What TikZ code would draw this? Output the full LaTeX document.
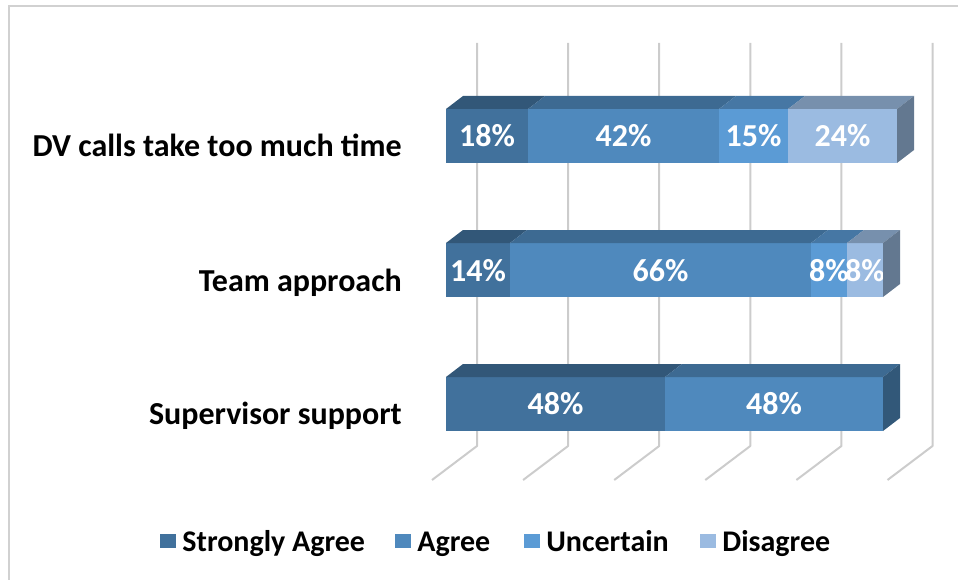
\documentclass[tikz,border=0pt]{standalone}
\usepackage{fontspec}
\setmainfont{Carlito}
\usetikzlibrary{positioning}

\definecolor{sagree}{RGB}{65,113,156}
\definecolor{agree}{RGB}{79,137,189}
\definecolor{uncert}{RGB}{91,155,213}
\definecolor{disagree}{RGB}{155,187,225}

\begin{document}
\begin{tikzpicture}
    [x=1pt,y=-1pt,every node/.style={font=\bfseries\fontsize{30}{36}\selectfont,inner sep=0pt,
         text height=26pt,text depth=6pt},
     val/.style={text=white,font=\bfseries\fontsize{32}{38}\selectfont},
     cat/.style={anchor=east,font=\bfseries\fontsize{32}{38}\selectfont},
     sq/.style={minimum width=16pt,minimum height=14pt,text height=,text depth=},
     grid/.style={line width=2pt,black!20,line join=round}]
    \useasboundingbox (0,0) rectangle (958,580);

    % frame
    \draw[black!18,line width=1.5pt] (9,580) -- (9,6) -- (958,6);

    % back wall and floor lines
    \foreach \i in {0,...,5}
        \draw[grid] ({477+91.1*\i},43) -- ({477+91.1*\i},446) -- ++(-45,34);

    % DV calls take too much time
    \foreach \a/\b/\c/\t [count=\i] in {446/528/sagree/18,528/719/agree/42,719/788/uncert/15,788/897/disagree/24}{
        \fill[\c] (\a,109) rectangle (\b,163);
        \fill[\c!77!black] (\a,109) -- ++(17,-13) -- (\b+17,96) -- (\b,109) -- cycle;
        \node[val] (dv\i) at ({(\a+\b)/2},137) {\t\%};
    }
    \fill[disagree!64!black] (897,109) -- ++(17,-13) -- ++(0,54) -- (897,163) -- cycle;
    \node[cat] (dv) at (402,147) {DV calls take too much time};

    % Team approach
    \foreach \a/\b/\c/\t [count=\i] in {446/510/sagree/14,510/811/agree/66,811/847/uncert/8,847/883/disagree/8}{
        \fill[\c] (\a,243) rectangle (\b,297);
        \fill[\c!77!black] (\a,243) -- ++(17,-13) -- (\b+17,230) -- (\b,243) -- cycle;
        \node[val] (team\i) at ({(\a+\b)/2},271) {\t\%};
    }
    \fill[disagree!64!black] (883,243) -- ++(17,-13) -- ++(0,54) -- (883,297) -- cycle;
    \node[cat] (team) at (402,281) {Team approach};

    % Supervisor support
    \foreach \a/\b/\c/\t [count=\i] in {446/665/sagree/48,665/883/agree/48}{
        \fill[\c] (\a,377) rectangle (\b,431);
        \fill[\c!77!black] (\a,377) -- ++(17,-13) -- (\b+17,364) -- (\b,377) -- cycle;
        \node[val] (sup\i) at ({(\a+\b)/2},404) {\t\%};
    }
    \fill[agree!64!black] (883,377) -- ++(17,-13) -- ++(0,54) -- (883,431) -- cycle;
    \node[cat] (sup) at (402,414) {Supervisor support};

    % legend
    \node[sq,fill=sagree] (k1) at (168,541) {};
    \node[right=6pt of k1] (t1) {Strongly Agree};
    \node[sq,fill=agree] (k2) at (403,541) {};
    \node[right=6pt of k2] (t2) {Agree};
    \node[sq,fill=uncert] (k3) at (532,541) {};
    \node[right=6pt of k3] (t3) {Uncertain};
    \node[sq,fill=disagree] (k4) at (708,541) {};
    \node[right=6pt of k4] (t4) {Disagree};
\end{tikzpicture}
\end{document}
